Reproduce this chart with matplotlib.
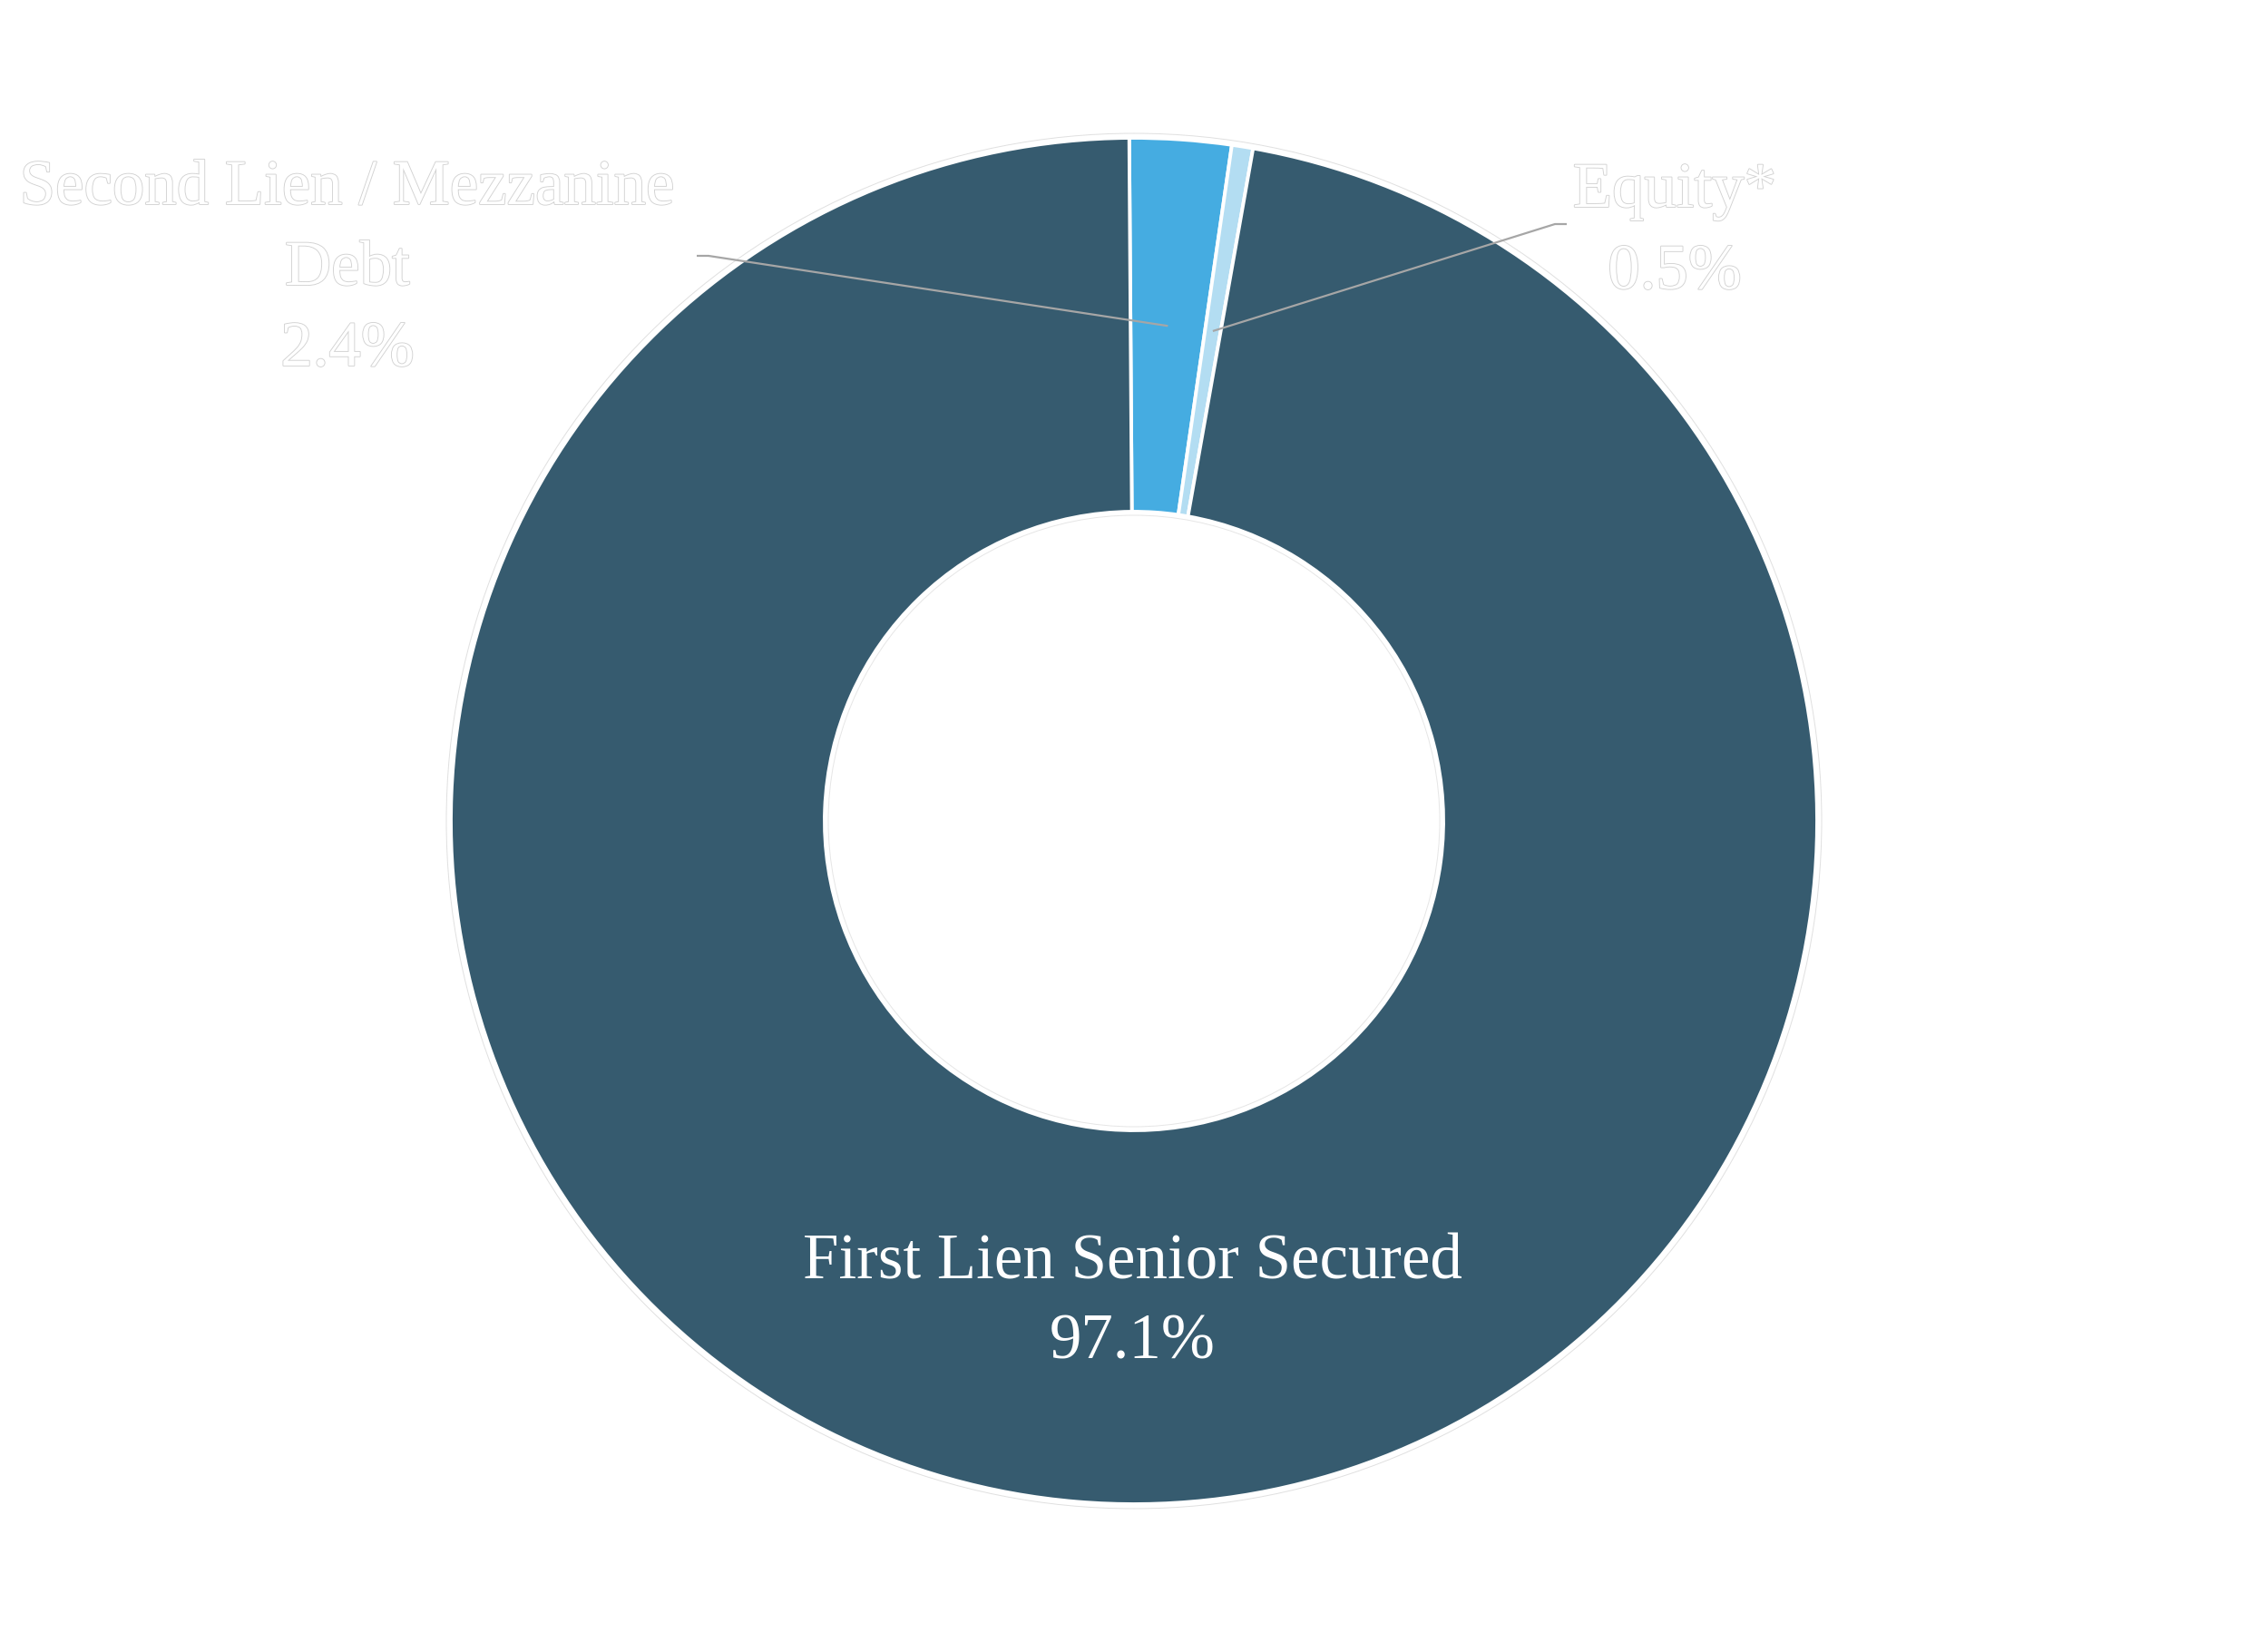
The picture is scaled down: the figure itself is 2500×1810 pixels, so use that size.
import numpy as np
import matplotlib
matplotlib.use("Agg")
import matplotlib.pyplot as plt
import matplotlib.patheffects as pe
from matplotlib.patches import Circle

# ---- data ----
categories = ["Second Lien / Mezzanine\nDebt", "Equity*", "First Lien Senior Secured"]
values = [2.4, 0.5, 97.1]
colors = ["#45ace1", "#b3ddf2", "#365b6f"]

W, H = 2500, 1810
fig = plt.figure(figsize=(25, 18.1), dpi=100)
ax = fig.add_axes([0, 0, 1, 1])

CX, CY = 1250, H - 905
R_OUT, R_IN = 753, 341

wedges, _ = ax.pie(values, radius=R_OUT, center=(CX, CY), startangle=90.4,
                   counterclock=False, colors=colors, frame=True,
                   wedgeprops=dict(width=R_OUT - R_IN, edgecolor="white",
                                   linewidth=2.8))
ax.add_patch(Circle((CX, CY), R_OUT + 5, fill=False, ec="#e0e0e0", lw=0.7))
ax.add_patch(Circle((CX, CY), R_IN - 4, fill=False, ec="#e6e6e6", lw=0.7))
ax.set_xlim(0, W)
ax.set_ylim(0, H)
ax.set_aspect("equal")
ax.axis("off")

font = "Liberation Serif"
fs = 51
outline = [pe.Stroke(linewidth=1.3, foreground="#d2d2d2"), pe.Normal()]

# label layouts: (x, first baseline px, line step px, outlined?)
layouts = [(383, 225, 89, True), (1846, 228, 90, True), (1248, 1410, 88, False)]

for cat, val, (lx, by, step, outl) in zip(categories, values, layouts):
    lines = cat.split("\n") + [f"{val:.1f}%"]
    for i, line in enumerate(lines):
        ax.text(lx, H - (by + i * step), line, ha="center", va="baseline",
                fontsize=fs, family=font, color="white",
                path_effects=outline if outl else None, zorder=5)

# leader lines
cum = np.cumsum([0] + values)
elbows = [((781, 282), (768, 282)), ((1714, 247), (1727, 247))]
for k, (elb, end) in enumerate(elbows):
    mid = 90.4 - (cum[k] + values[k] / 2) / 100 * 360
    r = (R_OUT + R_IN) / 2
    sx = CX + r * np.cos(np.radians(mid))
    sy = CY + r * np.sin(np.radians(mid))
    ax.plot([sx, elb[0], end[0]], [sy, H - elb[1], H - end[1]],
            color="#a6a6a6", lw=1.6, zorder=4, solid_capstyle="butt")

fig.savefig("out.png", dpi=100, facecolor="white")
